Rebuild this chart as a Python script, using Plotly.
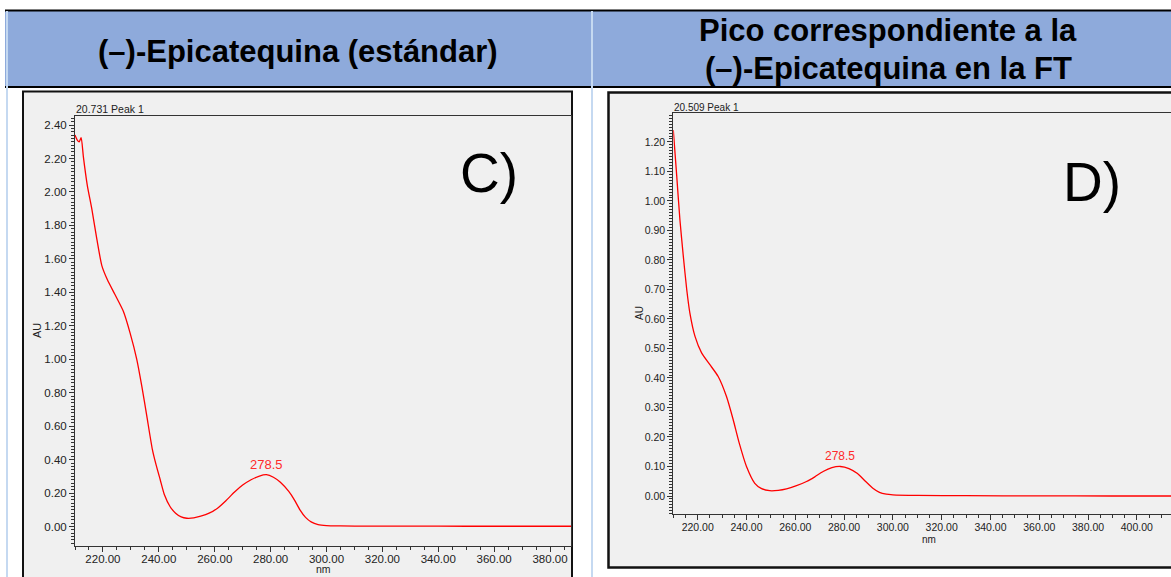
import plotly.graph_objects as go

# Figure size in pixels
W, H = 1171, 577

# UV spectrum of the (-)-epicatechin standard (panel C)
std_nm = [210.0, 210.8, 211.5, 212.2, 213.0, 214.4, 216.0, 217.8, 219.6, 221.6,
          224.3, 227.3, 229.7, 232.1, 233.9, 235.7, 237.7, 239.0, 240.5, 242.0,
          244.0, 246.0, 248.0, 250.0, 252.5, 255.0, 258.0, 261.0, 264.0, 267.0,
          270.0, 273.0, 276.0, 278.5, 281.0, 283.5, 286.5, 288.5, 290.5, 292.5,
          294.5, 297.0, 300.0, 305.0, 315.0, 330.0, 350.0, 370.0, 387.5]
std_au = [2.34, 2.31, 2.30, 2.325, 2.21, 2.04, 1.90, 1.72, 1.56, 1.475,
          1.387, 1.287, 1.158, 1.00, 0.84, 0.66, 0.46, 0.37, 0.28, 0.19,
          0.12, 0.08, 0.058, 0.05, 0.052, 0.062, 0.08, 0.11, 0.155, 0.205,
          0.248, 0.28, 0.302, 0.31, 0.295, 0.265, 0.21, 0.16, 0.10, 0.055,
          0.028, 0.012, 0.006, 0.004, 0.003, 0.003, 0.002, 0.002, 0.002]

# UV spectrum of the matching peak in the FT sample (panel D)
ft_nm = [210.0, 211.4, 212.7, 214.1, 215.5, 216.8, 218.9, 221.6, 225.0, 228.4,
         231.8, 234.5, 237.0, 240.0, 243.4, 246.0, 249.5, 253.0, 256.4, 260.5,
         264.6, 268.0, 271.4, 275.0, 278.5, 282.0, 285.5, 288.5, 291.8, 294.5,
         297.3, 300.0, 310.0, 330.0, 360.0, 390.0, 414.0]
ft_au = [1.24, 1.085, 0.937, 0.813, 0.70, 0.62, 0.541, 0.485, 0.445, 0.405,
         0.337, 0.26, 0.18, 0.10, 0.043, 0.026, 0.018, 0.019, 0.024, 0.035,
         0.049, 0.065, 0.083, 0.096, 0.10, 0.093, 0.076, 0.052, 0.026, 0.012,
         0.006, 0.004, 0.002, 0.001, 0.0005, 0.0, 0.0]

peak_nm = 278.5
left_title = "(–)-Epicatequina (estándar)"
right_title_lines = ["Pico correspondiente a la", "(–)-Epicatequina en la FT"]
peak_captions = ["20.731 Peak 1", "20.509 Peak 1"]
panel_letters = ["C)", "D)"]

FONT = "Liberation Sans, Arial, Helvetica, sans-serif"
RED = "#FF0000"
PANEL_BG = "#F0F0F0"
HEADER_BG = "#8EAADB"
DIVIDER = "#C5D9F1"


def px(x):
    return x / W


def py(y):
    return 1 - y / H


fig = go.Figure()

fig.add_trace(go.Scatter(
    x=std_nm, y=std_au, mode="lines", xaxis="x", yaxis="y",
    line=dict(color=RED, width=1.3, shape="spline", smoothing=0.6),
    hoverinfo="skip", showlegend=False))
fig.add_trace(go.Scatter(
    x=ft_nm, y=ft_au, mode="lines", xaxis="x2", yaxis="y2",
    line=dict(color=RED, width=1.3, shape="spline", smoothing=0.6),
    hoverinfo="skip", showlegend=False))


def axis_style(size, dtick, minor_dtick, fmt, standoff=0):
    return dict(
        showline=True, linecolor="#333333", linewidth=1, mirror=True,
        ticks="outside", ticklen=5, tickcolor="#333333", tickwidth=1,
        showgrid=False, zeroline=False, dtick=dtick, tick0=0,
        tickformat=fmt, ticklabelstandoff=standoff,
        tickfont=dict(family=FONT, size=size, color="#222222"),
        minor=dict(ticks="outside", ticklen=3, dtick=minor_dtick,
                   tickcolor="#333333", showgrid=False),
    )


fig.update_layout(
    width=W, height=H,
    margin=dict(l=0, r=0, t=0, b=0),
    paper_bgcolor="white",
    plot_bgcolor=PANEL_BG,
    showlegend=False,
    xaxis=dict(domain=[px(75), px(571)], range=[210, 387.5], anchor="y",
               **axis_style(11.5, 20, 5, ".2f", -3)),
    yaxis=dict(domain=[py(546), py(116)], range=[-0.116, 2.454], anchor="x",
               **axis_style(11.5, 0.2, 0.02, ".2f")),
    xaxis2=dict(domain=[px(673.3), 1.0], range=[210, 414], anchor="y2",
                **axis_style(10.5, 20, 5, ".2f", -2)),
    yaxis2=dict(domain=[py(514), py(113.3)], range=[-0.061, 1.297], anchor="x2",
                **axis_style(10.5, 0.1, 0.01, ".2f")),
)

shapes = [
    # header band across both columns
    dict(type="rect", xref="paper", yref="paper", x0=px(5), x1=1.0,
         y0=py(87), y1=py(10), fillcolor=HEADER_BG, line=dict(width=0),
         layer="below"),
    dict(type="line", xref="paper", yref="paper", x0=px(5), x1=1.0,
         y0=py(10.5), y1=py(10.5), line=dict(color="black", width=2)),
    dict(type="line", xref="paper", yref="paper", x0=px(5), x1=1.0,
         y0=py(87), y1=py(87), line=dict(color="black", width=2)),
    # table column rules
    dict(type="line", xref="paper", yref="paper", x0=px(7), x1=px(7),
         y0=py(11), y1=py(H), line=dict(color=DIVIDER, width=2)),
    dict(type="line", xref="paper", yref="paper", x0=px(592), x1=px(592),
         y0=py(11), y1=py(H), line=dict(color=DIVIDER, width=2)),
    # chart frames
    dict(type="rect", xref="paper", yref="paper", x0=px(23), x1=px(572),
         y0=py(595), y1=py(91.5), fillcolor=PANEL_BG,
         line=dict(color="#111111", width=2), layer="below"),
    dict(type="rect", xref="paper", yref="paper", x0=px(608.5), x1=px(1185),
         y0=py(567.5), y1=py(92.5), fillcolor=PANEL_BG,
         line=dict(color="#111111", width=2.5), layer="below"),
]
fig.update_layout(shapes=shapes)


def paper_text(x, y, text, size, color="#222222", xanchor="center",
               angle=0):
    return dict(x=px(x), y=py(y), xref="paper", yref="paper", text=text,
                showarrow=False, xanchor=xanchor, yanchor="middle",
                textangle=angle,
                font=dict(family=FONT, size=size, color=color))


ann = [
    # column headers
    paper_text(298, 51, "<b>%s</b>" % left_title, 31, "black"),
    paper_text(888, 31, "<b>%s</b>" % right_title_lines[0], 31, "black"),
    paper_text(888, 68, "<b>%s</b>" % right_title_lines[1], 31, "black"),
    # caption above each plot area
    paper_text(74, 109, peak_captions[0], 10.5, xanchor="left"),
    paper_text(672, 107, peak_captions[1], 10, xanchor="left"),
    # panel letters
    paper_text(489, 173, panel_letters[0], 55, "black"),
    paper_text(1092, 182, panel_letters[1], 55, "black"),
    # axis titles
    paper_text(37, 331, "AU", 11, angle=-90),
    paper_text(639, 313, "AU", 10, angle=-90),
    paper_text(323, 569, "nm", 10.5),
    paper_text(929, 539, "nm", 10),
]
# peak wavelength labels
ann.append(dict(x=peak_nm, y=std_au[std_nm.index(peak_nm)], xref="x", yref="y",
                text="%.1f" % peak_nm, showarrow=False, xanchor="center",
                yanchor="bottom", yshift=1,
                font=dict(family=FONT, size=13, color="#FF2A2A")))
ann.append(dict(x=peak_nm, y=ft_au[ft_nm.index(peak_nm)], xref="x2", yref="y2",
                text="%.1f" % peak_nm, showarrow=False, xanchor="center",
                yanchor="bottom", yshift=1,
                font=dict(family=FONT, size=12, color="#FF2A2A")))
fig.update_layout(annotations=ann)

fig.write_html("out.html")
